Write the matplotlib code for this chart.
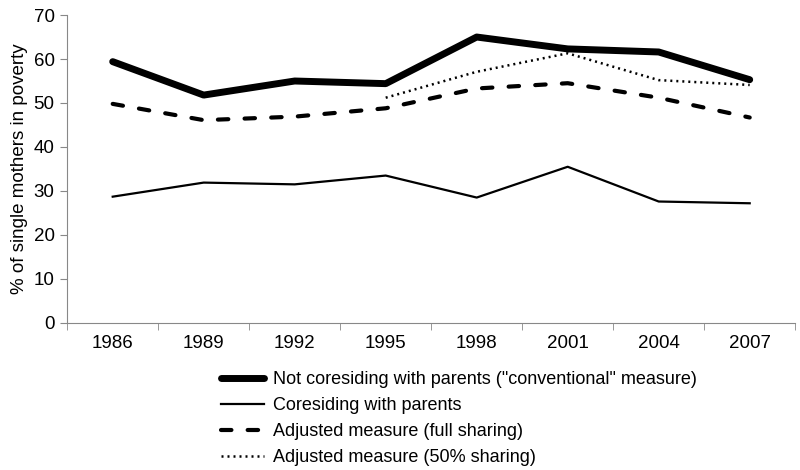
import matplotlib
matplotlib.use("Agg")
import matplotlib.pyplot as plt
import numpy as np

plt.rcParams['font.family'] = ['Liberation Sans', 'DejaVu Sans']

# datos
years = ["1986", "1989", "1992", "1995", "1998", "2001", "2004", "2007"]
not_coresiding = [59.4, 51.8, 55.0, 54.4, 65.0, 62.3, 61.6, 55.3]
coresiding = [28.7, 31.9, 31.5, 33.5, 28.5, 35.5, 27.6, 27.2]
full_sharing = [49.8, 46.1, 46.9, 48.8, 53.3, 54.5, 51.2, 46.7]
half_sharing = [np.nan, np.nan, np.nan, 51.2, 57.1, 61.3, 55.2, 54.1]

labels = ['Not coresiding with parents ("conventional" measure)',
          'Coresiding with parents',
          'Adjusted measure (full sharing)',
          'Adjusted measure (50% sharing)']

fig = plt.figure(figsize=(8, 4.7), dpi=100)
ax = fig.add_axes([0.084, 0.313, 0.91, 0.655])

x = np.arange(len(years))
ax.plot(x, not_coresiding, color='black', lw=5, solid_capstyle='round', label=labels[0])
ax.plot(x, coresiding, color='black', lw=1.6, label=labels[1])
ax.plot(x, full_sharing, color='black', lw=3, dashes=(2.5, 3.9), dash_capstyle='round', label=labels[2])
ax.plot(x, half_sharing, color='black', lw=1.8, linestyle=(0, (0.8, 1.6)), label=labels[3])

ax.set_xlim(-0.5, len(years) - 0.5)
ax.set_ylim(0, 70)
ax.set_yticks(range(0, 71, 10))
ax.set_xticks(x)
ax.set_xticklabels(years)
ax.set_xticks(np.arange(-0.5, len(years), 1), minor=True)
ax.tick_params(axis='x', which='major', length=0, pad=9, labelsize=13.5)
ax.tick_params(axis='x', which='minor', length=5, color='#888888')
ax.tick_params(axis='y', length=5, color='#888888', labelsize=13.5, pad=4)
ax.set_ylabel('% of single mothers in poverty', fontsize=13.5, labelpad=4)

for s in ['top', 'right']:
    ax.spines[s].set_visible(False)
for s in ['left', 'bottom']:
    ax.spines[s].set_color('#888888')

fig.legend(loc='upper left', bbox_to_anchor=(0.276, 0.211), frameon=False,
           fontsize=13, handlelength=2.4, handletextpad=0.5, labelspacing=0.5,
           borderpad=0, borderaxespad=0)

plt.savefig('out.png', dpi=100)
